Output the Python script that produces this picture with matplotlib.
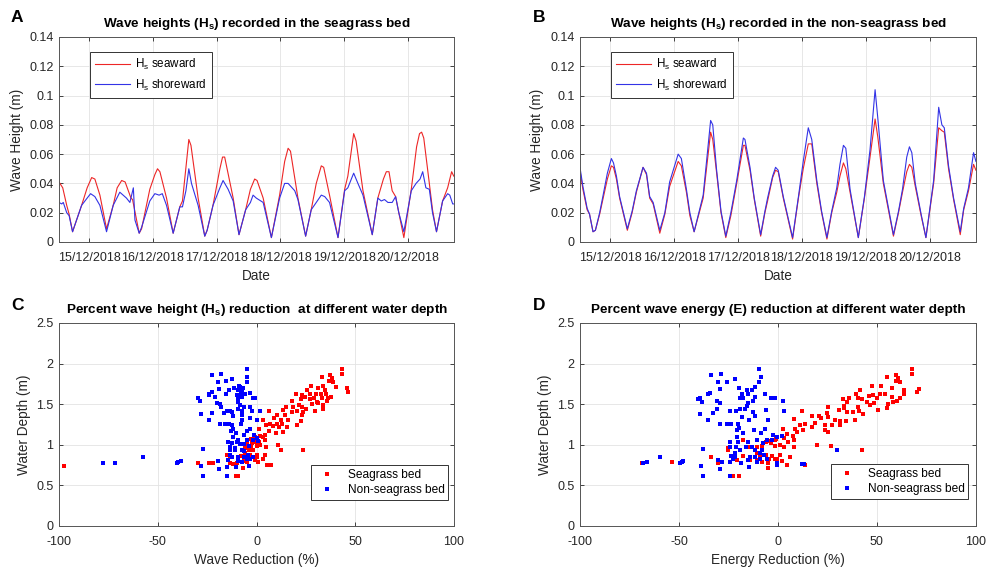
import numpy as np
import matplotlib
matplotlib.use('Agg')
import matplotlib.pyplot as plt
from matplotlib.ticker import FormatStrFormatter

plt.rcParams['font.family'] = ['Liberation Sans', 'DejaVu Sans']
plt.rcParams['mathtext.fontset'] = 'custom'
plt.rcParams['mathtext.rm'] = 'Liberation Sans'
plt.rcParams['mathtext.bf'] = 'Liberation Sans:bold'
plt.rcParams['axes.unicode_minus'] = False

# ---- data: hours since 14/12/2018 00:00 ----
day_ticks = [24, 48, 72, 96, 120, 144]
day_labels = ['15/12/2018', '16/12/2018', '17/12/2018', '18/12/2018', '19/12/2018', '20/12/2018']

# panel A - seagrass bed
tA_sea = [12.6, 14.0, 15.5, 16.4, 17.7, 21.1, 23.2, 24.9, 26.1, 28.0, 30.5, 33.0, 34.5, 36.2, 37.5,
          39.7, 40.3, 42.8, 43.7, 46.8, 48.7, 49.7, 50.6, 53.1, 55.6, 58.1, 59.1, 61.5, 62.3, 65.0,
          67.5, 68.4, 70.6, 73.2, 74.2, 75.0, 78.2, 80.4, 82.9, 84.7, 86.3, 87.2, 89.5, 92.6, 95.7,
          97.6, 98.9, 99.8, 102.6, 105.5, 107.6, 109.5, 111.4, 112.3, 114.5, 117.7, 120.2, 121.4,
          123.6, 124.5, 127.1, 130.6, 132.7, 134.8, 135.9, 136.9, 138.1, 139.4, 140.6, 142.5, 145.3,
          147.3, 148.4, 149.2, 150.0, 152.1, 153.3, 154.8, 157.1, 159.0, 160.5, 161.3]
hA_sea = [0.041, 0.037, 0.025, 0.019, 0.007, 0.025, 0.037, 0.044, 0.043, 0.032, 0.009, 0.025, 0.037,
          0.042, 0.041, 0.030, 0.029, 0.006, 0.009, 0.036, 0.046, 0.050, 0.048, 0.030, 0.006, 0.024,
          0.028, 0.070, 0.066, 0.030, 0.004, 0.008, 0.025, 0.050, 0.058, 0.058, 0.030, 0.005, 0.022,
          0.036, 0.043, 0.042, 0.030, 0.003, 0.032, 0.055, 0.064, 0.062, 0.030, 0.004, 0.022, 0.040,
          0.052, 0.051, 0.032, 0.003, 0.036, 0.045, 0.074, 0.069, 0.035, 0.005, 0.030, 0.043, 0.048,
          0.048, 0.035, 0.031, 0.020, 0.003, 0.036, 0.065, 0.074, 0.075, 0.071, 0.040, 0.022, 0.007,
          0.028, 0.037, 0.048, 0.045]
tA_shore = [12.6, 13.6, 14.2, 15.5, 16.4, 17.7, 21.1, 23.2, 24.5, 26.1, 28.0, 30.5, 33.0, 35.5, 38.0,
            39.3, 40.6, 41.2, 42.8, 43.7, 46.8, 48.7, 50.3, 51.5, 53.1, 55.6, 58.1, 59.1, 60.4, 61.5,
            62.5, 65.0, 67.5, 68.4, 70.6, 73.2, 74.4, 76.3, 78.2, 80.4, 82.9, 84.7, 85.7, 86.9, 89.5,
            92.6, 95.7, 97.6, 98.9, 101.4, 102.6, 105.5, 107.6, 109.5, 111.4, 112.7, 114.5, 117.7,
            120.2, 121.4, 123.6, 125.2, 127.1, 130.6, 132.7, 134.0, 135.2, 136.5, 138.1, 139.4, 140.6,
            142.5, 145.3, 147.1, 148.6, 149.6, 150.8, 152.1, 153.3, 154.8, 157.1, 159.0, 159.8, 160.9,
            161.3]
hA_shore = [0.027, 0.026, 0.027, 0.020, 0.018, 0.007, 0.025, 0.030, 0.033, 0.031, 0.025, 0.007, 0.025,
            0.034, 0.030, 0.027, 0.037, 0.015, 0.006, 0.010, 0.028, 0.033, 0.032, 0.033, 0.025, 0.006,
            0.024, 0.024, 0.035, 0.050, 0.040, 0.025, 0.004, 0.008, 0.025, 0.037, 0.042, 0.036, 0.028,
            0.005, 0.022, 0.027, 0.032, 0.030, 0.027, 0.003, 0.030, 0.040, 0.040, 0.035, 0.029, 0.004,
            0.022, 0.027, 0.032, 0.031, 0.027, 0.003, 0.035, 0.037, 0.047, 0.040, 0.032, 0.005, 0.030,
            0.028, 0.029, 0.027, 0.027, 0.031, 0.020, 0.007, 0.035, 0.040, 0.043, 0.048, 0.037, 0.036,
            0.020, 0.007, 0.028, 0.033, 0.032, 0.026, 0.026]

# panel B - non-seagrass bed
tB = [12.6, 13.7, 15.3, 16.2, 17.5, 18.4, 20.0, 21.2, 22.9, 24.4, 25.2, 26.3, 27.5, 30.4, 32.2, 33.8,
      36.3, 37.6, 38.8, 40.1, 42.6, 44.5, 46.3, 49.5, 50.7, 52.6, 53.9, 55.5, 58.9, 61.7, 62.5, 63.9,
      65.6, 67.4, 69.3, 71.5, 74.0, 74.6, 76.5, 78.1, 80.5, 82.1, 83.1, 85.0, 86.1, 87.1, 89.0, 92.5,
      94.7, 96.5, 98.4, 99.7, 101.6, 103.4, 105.4, 107.2, 109.1, 110.3, 111.6, 112.5, 114.1, 117.2,
      119.5, 121.6, 123.5, 124.5, 126.6, 130.4, 132.3, 133.8, 135.4, 136.4, 137.3, 138.6, 140.8, 142.6,
      145.5, 147.4, 148.6, 149.5, 151.1, 153.0, 155.5, 156.8, 158.6, 160.5, 161.4]
hB_sea = [0.049, 0.036, 0.022, 0.019, 0.007, 0.008, 0.019, 0.029, 0.043, 0.052, 0.051, 0.043, 0.030,
          0.008, 0.020, 0.034, 0.051, 0.046, 0.030, 0.026, 0.006, 0.019, 0.038, 0.055, 0.052, 0.034,
          0.018, 0.007, 0.030, 0.075, 0.070, 0.048, 0.020, 0.003, 0.018, 0.040, 0.066, 0.066, 0.049,
          0.029, 0.004, 0.020, 0.028, 0.044, 0.049, 0.048, 0.030, 0.002, 0.030, 0.050, 0.067, 0.067,
          0.040, 0.020, 0.002, 0.020, 0.034, 0.045, 0.054, 0.050, 0.034, 0.003, 0.030, 0.058, 0.084,
          0.072, 0.040, 0.004, 0.020, 0.034, 0.048, 0.053, 0.051, 0.038, 0.018, 0.003, 0.040, 0.078,
          0.076, 0.075, 0.050, 0.029, 0.005, 0.022, 0.035, 0.053, 0.049]
hB_shore = [0.051, 0.038, 0.023, 0.019, 0.007, 0.008, 0.020, 0.031, 0.047, 0.057, 0.054, 0.045, 0.031,
            0.009, 0.021, 0.035, 0.051, 0.047, 0.031, 0.027, 0.008, 0.020, 0.041, 0.060, 0.057, 0.036,
            0.020, 0.007, 0.032, 0.083, 0.080, 0.050, 0.021, 0.004, 0.020, 0.042, 0.071, 0.070, 0.051,
            0.030, 0.005, 0.021, 0.030, 0.045, 0.051, 0.049, 0.031, 0.003, 0.031, 0.055, 0.078, 0.070,
            0.042, 0.021, 0.003, 0.021, 0.037, 0.053, 0.066, 0.064, 0.036, 0.003, 0.031, 0.063, 0.104,
            0.085, 0.042, 0.005, 0.021, 0.036, 0.058, 0.065, 0.061, 0.040, 0.019, 0.003, 0.042, 0.092,
            0.080, 0.078, 0.052, 0.030, 0.007, 0.023, 0.037, 0.061, 0.055]

# panel C - wave height reduction (%) vs water depth (m)
C_sea_x = [43.5, 43.5, 37.2, 33.2, 38.1, 36.9, 38.6, 33.9, 27.8, 40.1, 31.0, 45.7, 34.5, 25.4, 46.2,
           30.1, 32.7, 20.0, 23.1, 27.1, 35.4, 24.6, 37.7, 29.3, 33.0, 36.4, 22.4, 27.1, 17.8, 35.5,
           30.5, 31.3, 28.0, 21.7, 33.9, 15.0, 22.9, 18.7, 29.6, 24.9, 13.6, 17.8, 20.4, 23.4, 33.9,
           6.5, 10.2, 14.5, 22.9, 8.9, 12.4, 16.0, 22.4, 3.5, 6.9, 10.2, 12.8, 20.4, 4.8, 8.5, 11.6,
           15.3, 1.5, 6.4, 9.7, 13.6, 4.3, 1.8, -0.7, 3.1, -2.9, 0.1, 4.3, 1.5, -0.7, -2.4, -4.9, 1.8,
           -2.8, 0.1, 4.7, 10.7, 12.4, 23.7, -5.8, -3.6, -1.6, -5.8, -3.3, 0.1, 4.3, -15.1, -7.8, -4.4,
           0.1, -13.4, -3.3, 3.1, -0.7, -6.3, -4.6, 1.0, -21.8, -24.2, -29.8, -13.4, -10.0, -11.7, 5.5,
           7.2, -7.0, -10.4, -9.2, -97.3]
C_sea_y = [1.93, 1.87, 1.86, 1.84, 1.82, 1.78, 1.77, 1.72, 1.72, 1.71, 1.70, 1.70, 1.68, 1.67, 1.65,
           1.63, 1.63, 1.62, 1.61, 1.62, 1.62, 1.59, 1.59, 1.58, 1.58, 1.57, 1.56, 1.56, 1.54, 1.54,
           1.53, 1.51, 1.50, 1.49, 1.49, 1.47, 1.47, 1.46, 1.41, 1.44, 1.43, 1.40, 1.41, 1.40, 1.44,
           1.41, 1.37, 1.37, 1.37, 1.33, 1.31, 1.31, 1.29, 1.31, 1.26, 1.26, 1.26, 1.24, 1.24, 1.23,
           1.22, 1.22, 1.19, 1.17, 1.15, 1.16, 1.12, 1.11, 1.10, 1.09, 1.07, 1.06, 1.06, 1.04, 1.03,
           1.02, 1.01, 1.00, 0.99, 0.98, 0.97, 1.00, 0.94, 0.94, 0.96, 0.94, 0.94, 0.90, 0.88, 0.87,
           0.87, 0.87, 0.86, 0.85, 0.85, 0.85, 0.83, 0.83, 0.81, 0.80, 0.79, 0.79, 0.78, 0.78, 0.77,
           0.77, 0.77, 0.76, 0.75, 0.75, 0.71, 0.62, 0.61, 0.74]
C_non_x = [-5.0, -18.1, -22.7, -4.6, -12.4, -15.4, -19.6, -5.0, -8.7, -8.3, -11.4, -6.8, -18.8, -14.1,
           -9.3, -7.5, -3.3, -22.3, -23.9, -8.0, -6.0, -15.4, -10.0, -23.9, -20.8, -1.9, -0.6, -29.4,
           -28.4, -9.2, -7.5, -9.2, -20.1, -18.5, -8.3, -6.3, -18.1, -3.3, -9.2, -13.4, -14.7, -12.2,
           -16.4, -7.5, -2.4, 1.6, -22.3, -28.2, -7.5, -12.0, -24.0, -7.5, -3.3, 0.1, -18.5, -15.9,
           -13.9, -12.2, -8.0, -11.9, -3.3, -4.6, -12.7, -10.4, -6.3, -1.2, 0.1, -11.7, -9.2, -14.6,
           -5.0, -1.6, 0.6, -12.2, -10.0, -8.3, -6.1, -3.8, -13.4, -10.9, -7.5, -13.4, -26.9, -10.9,
           -6.1, -4.1, -13.4, -12.6, -9.2, -6.1, -5.0, -1.6, -14.2, -3.3, -19.3, -9.2, -7.5, -28.2,
           -3.6, -10.5, -15.1, -18.8, -26.9, -15.1, -39.6, -40.4, -38.2, -77.9, -71.7, -57.3]
C_non_y = [1.93, 1.87, 1.86, 1.84, 1.81, 1.78, 1.77, 1.77, 1.72, 1.71, 1.70, 1.70, 1.69, 1.68, 1.67,
           1.66, 1.64, 1.65, 1.63, 1.63, 1.63, 1.62, 1.61, 1.61, 1.59, 1.58, 1.57, 1.57, 1.54, 1.57,
           1.59, 1.53, 1.52, 1.50, 1.49, 1.47, 1.46, 1.47, 1.44, 1.41, 1.41, 1.40, 1.39, 1.41, 1.42,
           1.42, 1.39, 1.38, 1.37, 1.35, 1.31, 1.31, 1.33, 1.31, 1.26, 1.25, 1.25, 1.24, 1.26, 1.20,
           1.20, 1.17, 1.17, 1.15, 1.12, 1.12, 1.08, 1.10, 1.06, 1.04, 1.06, 1.06, 1.05, 1.02, 1.03,
           1.01, 1.01, 0.99, 0.97, 0.96, 0.94, 0.94, 0.95, 0.93, 0.92, 0.87, 0.87, 0.85, 0.85, 0.85,
           0.83, 0.85, 0.81, 0.82, 0.80, 0.80, 0.79, 0.74, 0.74, 0.73, 0.73, 0.70, 0.62, 0.61, 0.79,
           0.78, 0.80, 0.78, 0.78, 0.85]

# panel D - energy reduction (%) vs water depth (m)
D_sea_x = [54.9, 59.6, 60.8, 59.6, 61.6, 51.8, 47.3, 57.4, 41.4, 63.8, 63.8, 51.5, 54.0, 39.4, 46.1,
           48.1, 57.4, 32.7, 36.0, 40.6, 42.3, 50.2, 61.6, 59.9, 58.2, 34.7, 44.8, 48.6, 33.3, 55.7,
           54.9, 46.5, 40.6, 33.3, 50.7, 41.1, 25.1, 30.8, 34.7, 38.0, 24.6, 42.8, 12.3, 20.7, 17.0,
           25.1, 38.9, 31.3, 28.8, 34.3, 21.7, 8.1, 18.7, 13.6, 11.1, 23.7, 27.1, 31.3, 17.0, 12.8,
           23.7, 25.4, 2.7, 8.6, 9.4, 4.4, 1.9, -1.0, 3.2, 7.7, 8.2, 4.9, -1.5, -4.9, -6.1, -3.5, 1.0,
           -1.5, 3.2, 8.1, -8.3, -10.8, -14.1, -17.5, 19.5, 26.6, 42.3, -25.1, -10.8, -6.1, -3.2, 1.0,
           6.1, -17.8, -9.1, -4.7, -0.7, -14.1, -10.4, -8.3, -5.2, -1.5, 1.9, -33.8, -22.6, -20.9,
           -53.7, -68.9, -30.5, -4.9, 4.4, 13.6, -22.6, -19.7, -25.4, 67.6, 67.6, 70.2, 71.0]
D_sea_y = [1.84, 1.86, 1.82, 1.78, 1.77, 1.72, 1.72, 1.70, 1.67, 1.68, 1.63, 1.63, 1.63, 1.63, 1.60,
           1.61, 1.59, 1.56, 1.58, 1.57, 1.56, 1.57, 1.57, 1.54, 1.53, 1.53, 1.53, 1.52, 1.48, 1.50,
           1.45, 1.49, 1.47, 1.45, 1.43, 1.41, 1.47, 1.43, 1.40, 1.40, 1.39, 1.38, 1.41, 1.35, 1.35,
           1.34, 1.31, 1.29, 1.31, 1.29, 1.33, 1.32, 1.27, 1.26, 1.24, 1.24, 1.24, 1.24, 1.22, 1.18,
           1.18, 1.16, 1.19, 1.20, 1.16, 1.13, 1.11, 1.07, 1.08, 1.11, 1.06, 1.03, 1.06, 1.05, 1.04,
           1.02, 1.00, 0.99, 0.97, 0.97, 0.98, 0.97, 0.97, 1.06, 1.00, 0.98, 0.94, 0.96, 0.90, 0.87,
           0.86, 0.87, 0.85, 0.86, 0.85, 0.83, 0.82, 0.81, 0.81, 0.79, 0.78, 0.82, 0.80, 0.85, 0.82,
           0.81, 0.79, 0.78, 0.77, 0.72, 0.75, 0.75, 0.62, 0.61, 0.94, 1.93, 1.87, 1.65, 1.69]
D_non_x = [-9.6, -28.8, -33.8, -8.8, -21.7, -25.6, -30.1, -9.4, -11.6, -15.5, -13.3, -19.5, -29.3, -15.0,
           -18.4, -34.3, -35.4, -39.4, -40.2, -19.2, -17.5, -11.6, -6.4, -3.5, -1.5, -31.0, -12.8,
           -15.0, -38.6, -29.3, -15.8, -30.6, -24.2, -21.4, -19.2, -16.5, -12.5, -6.1, 3.2, -39.4,
           -33.0, -11.6, -35.2, -18.4, -14.5, -4.9, -29.3, -25.6, -23.9, -20.4, -6.6, -12.0, -19.7,
           -20.9, -17.5, -8.8, -2.4, -0.3, -20.9, -24.2, -20.0, -15.0, -10.4, -7.7, -5.7, -3.0, 1.9,
           -21.4, -24.2, -16.2, -13.3, -11.6, -19.2, -8.3, -37.7, 29.6, -21.7, -9.1, -7.1, -23.9, -21.7,
           -14.1, -11.6, -22.6, -9.1, -30.1, -15.0, -0.7, -5.7, -24.2, -10.8, -18.9, -28.5, -38.9, -0.3,
           -14.5, 11.9, 13.3, -29.3, -24.2, -38.0, -48.7, -49.5, -47.8, -59.6, -66.0, -68.0, 2.4]
D_non_y = [1.93, 1.87, 1.86, 1.84, 1.81, 1.77, 1.77, 1.77, 1.71, 1.67, 1.67, 1.70, 1.69, 1.63, 1.63,
           1.64, 1.62, 1.57, 1.56, 1.58, 1.57, 1.59, 1.62, 1.58, 1.58, 1.54, 1.54, 1.52, 1.53, 1.51,
           1.48, 1.44, 1.41, 1.41, 1.44, 1.44, 1.40, 1.43, 1.42, 1.38, 1.39, 1.35, 1.31, 1.34, 1.31,
           1.31, 1.26, 1.26, 1.25, 1.26, 1.20, 1.18, 1.21, 1.18, 1.14, 1.14, 1.12, 1.10, 1.10, 1.03,
           1.04, 1.03, 1.06, 1.02, 1.06, 1.06, 1.11, 0.97, 0.97, 0.97, 0.97, 0.93, 0.93, 0.94, 0.95,
           0.94, 0.90, 0.90, 0.88, 0.86, 0.85, 0.85, 0.85, 0.83, 0.82, 0.81, 0.81, 0.77, 0.83, 0.79,
           0.79, 0.78, 0.79, 0.74, 0.75, 0.73, 0.76, 0.76, 0.70, 0.61, 0.62, 0.79, 0.78, 0.80, 0.85,
           0.79, 0.78, 1.54]

RED = (0.93, 0.15, 0.15)
BLUE = (0.2, 0.2, 0.9)
AXC = (0.15, 0.15, 0.15)

fig = plt.figure(figsize=(9.87, 5.69), dpi=100)
fig.patch.set_facecolor('white')
axA = fig.add_axes([0.0598, 0.5747, 0.4002, 0.3603])
axB = fig.add_axes([0.5876, 0.5747, 0.4012, 0.3603])
axC = fig.add_axes([0.0598, 0.0756, 0.4002, 0.3568])
axD = fig.add_axes([0.5876, 0.0756, 0.4012, 0.3568])


def style(ax):
    ax.grid(True, color='#e3e3e3', linewidth=0.6)
    ax.set_axisbelow(True)
    ax.tick_params(direction='in', length=3, width=0.6, top=True, right=True,
                   labelsize=9, colors=AXC)
    ax.tick_params(axis='x', pad=7)
    ax.tick_params(axis='y', pad=4)
    for s in ax.spines.values():
        s.set_color('#555555')
        s.set_linewidth(0.7)


for ax, ts, hs, tsh, hsh, title in [
        (axA, tA_sea, hA_sea, tA_shore, hA_shore,
         r'Wave heights ($\mathbf{H_s}$) recorded in the seagrass bed'),
        (axB, tB, hB_sea, tB, hB_shore,
         r'Wave heights ($\mathbf{H_s}$) recorded in the non-seagrass bed')]:
    style(ax)
    ax.plot(ts, hs, color=RED, lw=0.8, label=r'H$_\mathrm{s}$ seaward')
    ax.plot(tsh, hsh, color=BLUE, lw=0.8, label=r'H$_\mathrm{s}$ shoreward')
    ax.set_xlim(12.6, 161.4)
    ax.set_ylim(0, 0.14)
    ax.set_yticks(np.arange(0, 0.141, 0.02))
    ax.yaxis.set_major_formatter(FormatStrFormatter('%g'))
    ax.set_xticks(day_ticks)
    ax.set_xticklabels(day_labels)
    ax.set_xlabel('Date', fontsize=9.8, color=AXC, labelpad=4)
    ax.set_ylabel('Wave Height (m)', fontsize=9.8, color=AXC, labelpad=4)
    ax.set_title(title, fontsize=9.7, fontweight='bold', pad=7)
    leg = ax.legend(loc='upper left', bbox_to_anchor=(0.078, 0.927), borderaxespad=0,
                    fontsize=8.4, handlelength=3.0, handletextpad=0.4, fancybox=False,
                    framealpha=1, edgecolor='#333333', borderpad=0.45, labelspacing=0.45)
    leg.get_frame().set_linewidth(0.7)

for ax, sx, sy, nx, ny, xlabel, title, anchor in [
        (axC, C_sea_x, C_sea_y, C_non_x, C_non_y, 'Wave Reduction (%)',
         r'Percent wave height ($\mathbf{H_s}$) reduction  at different water depth', (0.985, 0.128)),
        (axD, D_sea_x, D_sea_y, D_non_x, D_non_y, 'Energy Reduction (%)',
         'Percent wave energy (E) reduction at different water depth', (0.98, 0.133))]:
    style(ax)
    ax.plot(sx, sy, linestyle='none', marker='s', ms=2.3, mew=0, color=(1, 0, 0), label='Seagrass bed')
    ax.plot(nx, ny, linestyle='none', marker='s', ms=2.3, mew=0, color=(0, 0, 1), label='Non-seagrass bed')
    ax.set_xlim(-100, 100)
    ax.set_ylim(0, 2.5)
    ax.set_xticks([-100, -50, 0, 50, 100])
    ax.set_yticks([0, 0.5, 1, 1.5, 2, 2.5])
    ax.yaxis.set_major_formatter(FormatStrFormatter('%g'))
    ax.set_xlabel(xlabel, fontsize=9.8, color=AXC, labelpad=4)
    ax.set_ylabel('Water Depth (m)', fontsize=9.8, color=AXC, labelpad=4)
    ax.set_title(title, fontsize=9.7, fontweight='bold', pad=7)
    leg = ax.legend(loc='lower right', bbox_to_anchor=anchor, borderaxespad=0,
                    fontsize=8.6, handlelength=2.2, handletextpad=0.6, numpoints=1,
                    fancybox=False, framealpha=1, edgecolor='#333333', borderpad=0.3,
                    labelspacing=0.3, markerscale=1.0)
    leg.get_frame().set_linewidth(0.7)

# panel letters
for x, y, s in [(0.011, 0.970, 'A'), (0.540, 0.970, 'B'), (0.011, 0.463, 'C'), (0.540, 0.463, 'D')]:
    fig.text(x, y, s, fontsize=12.5, fontweight='bold', va='center', ha='left')

fig.savefig('out.png', dpi=100)
